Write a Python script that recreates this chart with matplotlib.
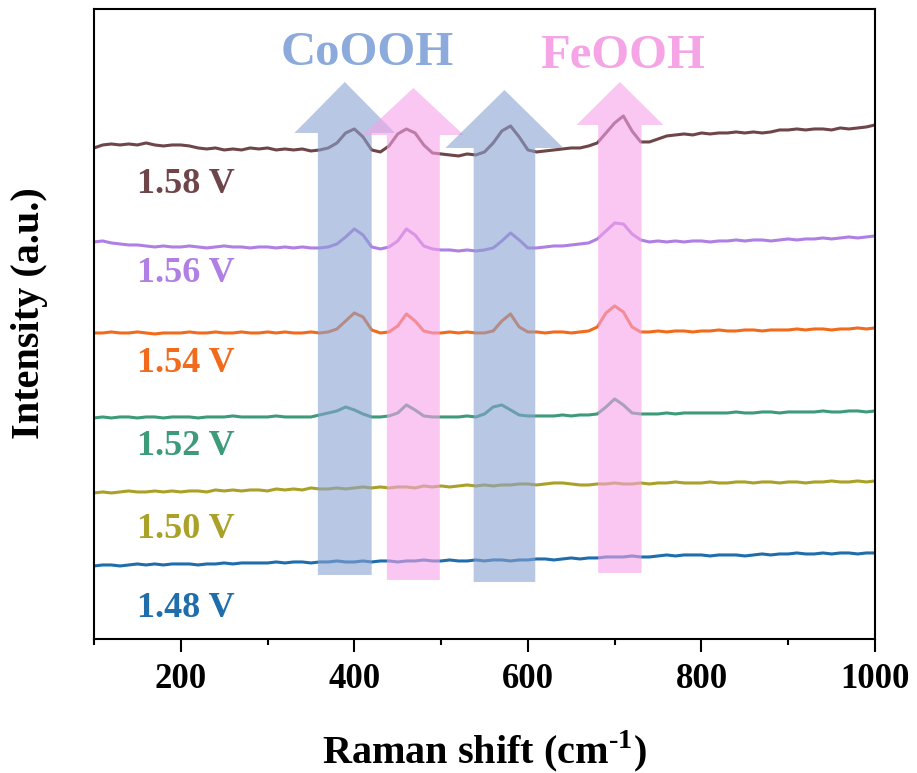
import numpy as np
import matplotlib
matplotlib.use('Agg')
import matplotlib.pyplot as plt
from matplotlib.patches import Polygon
from matplotlib.ticker import MultipleLocator

plt.rcParams['font.family'] = ['Liberation Serif', 'DejaVu Serif']
plt.rcParams['font.weight'] = 'bold'
plt.rcParams['mathtext.fontset'] = 'custom'
plt.rcParams['mathtext.rm'] = 'Liberation Serif:bold'
plt.rcParams['mathtext.bf'] = 'Liberation Serif:bold'

# Raman shift grid (cm-1)
shift = np.arange(100, 1001, 10)

# stacked spectra, offset intensity (a.u.)
i158 = [491, 494, 495, 494, 495, 494, 496, 494, 493, 494,
        494, 493, 491, 490, 491, 489, 490, 489, 491, 490,
        491, 489, 490, 489, 490, 488, 489, 491, 496, 506,
        510, 502, 489, 487, 493, 505, 510, 506, 494, 486,
        485, 484, 483, 485, 484, 487, 496, 508, 513, 502,
        489, 487, 488, 489, 490, 491, 491, 493, 496, 506,
        516, 523, 508, 497, 497, 500, 503, 504, 505, 504,
        506, 505, 506, 506, 507, 506, 507, 506, 507, 509,
        509, 510, 509, 510, 510, 509, 511, 510, 511, 512,
        514]
i156 = [397, 398, 396, 395, 394, 394, 393, 392, 393, 392,
        392, 393, 392, 391, 392, 393, 392, 392, 391, 392,
        392, 391, 392, 391, 392, 391, 391, 392, 395, 402,
        410, 404, 392, 390, 392, 398, 410, 404, 393, 390,
        389, 389, 388, 389, 388, 389, 391, 398, 406, 399,
        391, 391, 392, 393, 393, 394, 395, 396, 400, 408,
        416, 415, 405, 399, 397, 398, 397, 398, 397, 398,
        398, 397, 398, 398, 399, 398, 399, 399, 398, 399,
        400, 399, 400, 400, 401, 400, 401, 402, 401, 402,
        403]
i154 = [306, 306, 307, 306, 306, 307, 306, 305, 306, 306,
        306, 307, 306, 306, 307, 306, 306, 307, 306, 306,
        307, 306, 307, 306, 306, 307, 306, 307, 310, 318,
        326, 322, 309, 306, 307, 313, 325, 318, 308, 306,
        306, 307, 306, 307, 306, 306, 308, 318, 325, 312,
        307, 307, 306, 307, 307, 306, 307, 308, 312, 326,
        333, 327, 312, 307, 307, 308, 307, 308, 308, 307,
        308, 308, 309, 308, 308, 309, 309, 308, 309, 309,
        309, 310, 309, 310, 310, 309, 310, 310, 311, 310,
        311]
i152 = [221, 222, 221, 222, 222, 221, 222, 222, 221, 222,
        222, 222, 221, 222, 222, 222, 223, 222, 222, 222,
        222, 223, 222, 222, 222, 222, 224, 226, 228, 232,
        229, 225, 222, 222, 223, 226, 234, 229, 223, 222,
        222, 222, 222, 223, 222, 225, 232, 234, 229, 224,
        223, 223, 223, 223, 224, 223, 224, 224, 225, 232,
        240, 234, 226, 225, 225, 225, 226, 225, 226, 226,
        226, 226, 226, 226, 227, 226, 226, 227, 227, 226,
        227, 227, 227, 227, 228, 227, 227, 228, 228, 227,
        228]
i150 = [146, 147, 146, 147, 148, 147, 147, 148, 147, 148,
        147, 148, 148, 147, 149, 148, 149, 148, 149, 149,
        148, 150, 149, 150, 149, 151, 150, 150, 151, 150,
        151, 152, 151, 152, 151, 152, 152, 151, 153, 152,
        153, 152, 153, 154, 153, 154, 153, 154, 154, 155,
        155, 154, 155, 156, 156, 155, 154, 154, 155, 155,
        156, 155, 155, 156, 155, 156, 156, 157, 156, 156,
        156, 157, 156, 156, 157, 157, 156, 157, 157, 156,
        157, 157, 156, 157, 157, 158, 157, 157, 158, 157,
        158]
i148 = [73, 74, 74, 73, 74, 75, 74, 75, 74, 75,
        75, 75, 74, 75, 75, 76, 75, 76, 76, 76,
        76, 77, 76, 77, 77, 76, 77, 77, 78, 77,
        77, 78, 77, 78, 78, 77, 78, 78, 79, 78,
        78, 79, 78, 78, 79, 78, 79, 79, 78, 79,
        79, 80, 80, 79, 80, 81, 80, 81, 81, 82,
        82, 82, 83, 82, 82, 83, 84, 83, 84, 84,
        84, 83, 84, 84, 84, 83, 84, 85, 84, 85,
        85, 86, 85, 85, 86, 85, 86, 86, 85, 86,
        86]

labels = ['1.58 V', '1.56 V', '1.54 V', '1.52 V', '1.50 V', '1.48 V']
spectra = [i158, i156, i154, i152, i150, i148]
colors = ['#6E4548', '#B07FE3', '#F26A1B', '#3D9B79', '#A9A128', '#1F6DAB']
label_y = [446, 357, 267, 184, 101, 22]

# highlight arrows: centre, shaft width, head width, bottom, head base, tip
arrows = [
    (389, 62, 116, 64, 506, 557, '#8AA3D2'),
    (468, 61, 116, 59, 504, 551, '#F5A3E9'),
    (573, 71, 136, 57, 491, 549, '#8AA3D2'),
    (706, 50, 100, 66, 514, 557, '#F5A3E9'),
]

fig = plt.figure(figsize=(9.17, 7.73), dpi=100)
ax = fig.add_axes([0.1025, 0.1734, 0.8517, 0.815])

for y, c in zip(spectra, colors):
    ax.plot(shift, y, color=c, lw=2.2, zorder=2)

for lab, c, ly in zip(labels, colors, label_y):
    ax.text(150, ly, lab, color=c, fontsize=26, fontweight='bold',
            ha='left', va='baseline')

for cx, sw, hw, y0, yb, yt, c in arrows:
    pts = [(cx - sw/2, y0), (cx - sw/2, yb), (cx - hw/2, yb), (cx, yt),
           (cx + hw/2, yb), (cx + sw/2, yb), (cx + sw/2, y0)]
    ax.add_patch(Polygon(pts, closed=True, facecolor=c, edgecolor='none',
                         alpha=0.6, zorder=3))

ax.text(415, 574, 'CoOOH', color='#8CAADC', fontsize=35, fontweight='bold',
        ha='center', va='baseline')
ax.text(709, 571, 'FeOOH', color='#F5A5E6', fontsize=35, fontweight='bold',
        ha='center', va='baseline')

ax.set_xlim(100, 1000)
ax.set_ylim(0, 630)
ax.xaxis.set_major_locator(MultipleLocator(200))
ax.xaxis.set_minor_locator(MultipleLocator(100))
ax.set_yticks([])
ax.tick_params(axis='x', which='major', direction='out', length=9, width=1.5,
               labelsize=25, pad=8)
ax.tick_params(axis='x', which='minor', direction='out', length=4.5, width=1.5)
for lab in ax.get_xticklabels():
    lab.set_fontweight('bold')
for s in ax.spines.values():
    s.set_linewidth(1.5)

ax.set_xlabel(r'Raman shift (cm$^{\text{-}\mathbf{1}}$)', fontsize=29, fontweight='bold')
ax.xaxis.set_label_coords(0.5, -0.141)
ax.xaxis.label.set_va('top')
ax.set_ylabel('Intensity (a.u.)', fontsize=29, fontweight='bold')
ax.yaxis.set_label_coords(-0.059, 0.517)

fig.savefig('out.png', dpi=100)
